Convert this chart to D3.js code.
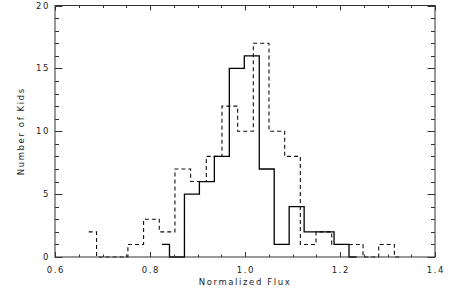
<!DOCTYPE html>
<html>
<head>
<meta charset="utf-8">
<script src="https://cdn.jsdelivr.net/npm/d3@7"></script>
<style>
  body { margin: 0; background: #fff; }
  svg text { font-family: "DejaVu Sans", sans-serif; font-size: 8.5px; fill: #222; letter-spacing: 1.6px; }
</style>
</head>
<body>
<svg id="chart" width="452" height="298"></svg>
<script>
// histogram bin centres and counts
var solidX = [0.825, 0.857, 0.888, 0.920, 0.951, 0.983, 1.014, 1.046, 1.077, 1.109, 1.140, 1.172, 1.203, 1.235]
var solidY = [1, 0, 5, 6, 8, 15, 16, 7, 1, 4, 2, 2, 1, 0]

var dashX = [0.671, 0.704, 0.737, 0.770, 0.803, 0.836, 0.869, 0.902, 0.935, 0.968, 1.001,
             1.034, 1.067, 1.100, 1.133, 1.166, 1.199, 1.232, 1.265, 1.298, 1.331]
var dashY = [2, 0, 0, 1, 3, 2, 7, 6, 8, 12, 10, 17, 10, 8, 1, 2, 1, 1, 0, 1, 0]

var xMajor = [0.6, 0.8, 1.0, 1.2, 1.4]
var yMajor = [0, 5, 10, 15, 20]

var xTitle = 'Normalized Flux'
var yTitle = 'Number of Kids'

// plot box (note: "top" is taken by window.top, so prefixed names)
var pLeft = 55, pRight = 435, pTop = 5.5, pBottom = 257

var x = d3.scaleLinear().domain([0.6, 1.4]).range([pLeft, pRight])
var y = d3.scaleLinear().domain([0, 20]).range([pBottom, pTop])

var svg = d3.select('#chart')

// psym=10 style steps: curveStep puts the risers half way between centres
var step = d3.line()
    .x(function(d) { return x(d[0]); })
    .y(function(d) { return y(d[1]); })
    .curve(d3.curveStep)

svg.append('path')
    .datum(d3.zip(dashX, dashY))
    .attr('d', step)
    .attr('fill', 'none')
    .attr('stroke', '#111')
    .attr('stroke-width', 1.1)
    .attr('stroke-dasharray', '4,3')

svg.append('path')
    .datum(d3.zip(solidX, solidY))
    .attr('d', step)
    .attr('fill', 'none')
    .attr('stroke', '#000')
    .attr('stroke-width', 1.3)

// axes: ticks inside, mirrored on top and right
var xMinor = d3.range(0.6, 1.4001, 0.05)
var yMinor = d3.range(0, 20.001, 1)

var g = svg.append('g').attr('stroke', '#333').attr('stroke-width', 1)

g.append('rect')
    .attr('x', pLeft).attr('y', pTop)
    .attr('width', pRight - pLeft).attr('height', pBottom - pTop)
    .attr('fill', 'none')

function isMajor(v, arr) {
    return arr.some(function(m) { return Math.abs(m - v) < 1e-6; });
}

g.selectAll('.xt')
    .data(xMinor)
    .join('path')
    .attr('d', function(d) {
        var len = isMajor(d, xMajor) ? 5 : 2.5
        var px = Math.round(x(d)) + 0.5
        return 'M' + px + ',' + pBottom + 'v' + (-len) + 'M' + px + ',' + pTop + 'v' + len
    })

g.selectAll('.yt')
    .data(yMinor)
    .join('path')
    .attr('d', function(d) {
        var len = isMajor(d, yMajor) ? 7.5 : 4
        var py = Math.round(y(d)) + 0.5
        return 'M' + pLeft + ',' + py + 'h' + len + 'M' + pRight + ',' + py + 'h' + (-len)
    })

svg.selectAll('.xl')
    .data(xMajor)
    .join('text')
    .attr('x', function(d) { return x(d) + 0.8; })
    .attr('y', 272.5)
    .attr('text-anchor', 'middle')
    .text(function(d) { return d.toFixed(1); })

svg.selectAll('.yl')
    .data(yMajor)
    .join('text')
    .attr('x', 50)
    .attr('y', function(d) { return y(d) + 3; })
    .attr('text-anchor', 'end')
    .text(function(d) { return d; })

svg.append('text')
    .attr('x', (pLeft + pRight) / 2)
    .attr('y', 285)
    .attr('text-anchor', 'middle')
    .text(xTitle)

svg.append('text')
    .attr('transform', 'translate(24,' + ((pTop + pBottom) / 2) + ') rotate(-90)')
    .attr('text-anchor', 'middle')
    .text(yTitle)
</script>
</body>
</html>
